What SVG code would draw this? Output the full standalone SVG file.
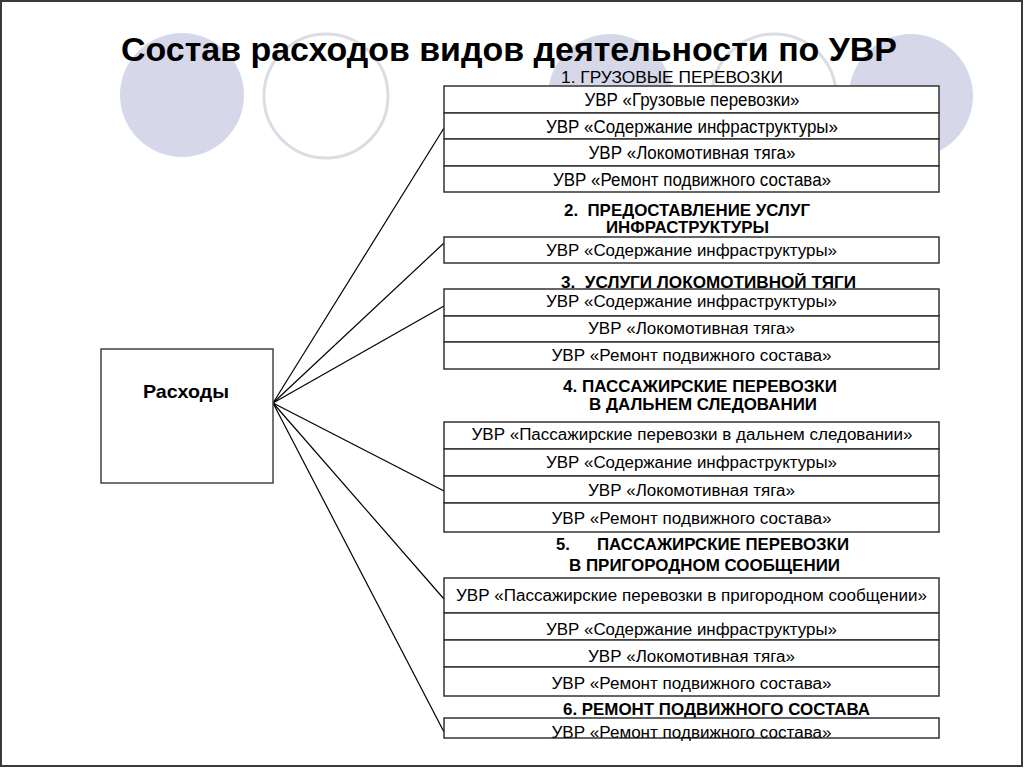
<svg xmlns="http://www.w3.org/2000/svg" width="1024" height="768" viewBox="0 0 1024 768">
<style>
.bg{fill:#ffffff}
.frame{fill:none;stroke:#3a3a3a;stroke-width:2}
.cf{fill:#d6d8ea;stroke:none}
.co{fill:none;stroke:#dcdde4;stroke-width:3}
.row{fill:#ffffff;stroke:#333333;stroke-width:1.5}
.node{fill:#ffffff;stroke:#444444;stroke-width:1.5}
.conn{stroke:#000000;stroke-width:1.2;fill:none}
.title{font-family:"Liberation Sans",Arial,sans-serif;font-weight:bold;font-size:34px;fill:#000}
.hn{font-family:"Liberation Sans",Arial,sans-serif;font-size:17px;fill:#000}
.hb{font-family:"Liberation Sans",Arial,sans-serif;font-weight:bold;font-size:16.5px;fill:#000}
.t{font-family:"Liberation Sans",Arial,sans-serif;font-size:16px;fill:#000;text-anchor:middle}
.t1{font-family:"Liberation Sans",Arial,sans-serif;font-size:18px;fill:#000;text-anchor:middle}
.nb{font-family:"Liberation Sans",Arial,sans-serif;font-weight:bold;font-size:19px;fill:#000;text-anchor:middle}
</style>
<rect class="bg" x="0" y="0" width="1024" height="768"/>
<g id="decor">
<circle class="cf" cx="182" cy="95" r="62"/>
<circle class="co" cx="326" cy="96" r="62"/>
<circle class="cf" cx="610" cy="96" r="62"/>
<circle class="co" cx="774" cy="96" r="62"/>
<circle class="cf" cx="911" cy="96" r="62"/>
</g>
<text id="title" class="title" x="121" y="61" textLength="776" lengthAdjust="spacingAndGlyphs">Состав расходов видов деятельности по УВР</text>
<g id="connectors">
<line class="conn" x1="273" y1="403" x2="444" y2="128"/>
<line class="conn" x1="273" y1="403" x2="444" y2="243"/>
<line class="conn" x1="273" y1="403" x2="444" y2="306"/>
<line class="conn" x1="273" y1="403" x2="444" y2="491"/>
<line class="conn" x1="273" y1="403" x2="444" y2="599"/>
<line class="conn" x1="273" y1="403" x2="444" y2="732"/>
</g>
<g id="node-rashody">
<rect class="node" x="101" y="349" width="172" height="134"/>
<text class="nb" x="186" y="398" textLength="86" lengthAdjust="spacingAndGlyphs">Расходы</text>
</g>
<g id="group-1">
<text class="hn" x="561" y="83" textLength="222" lengthAdjust="spacingAndGlyphs">1. ГРУЗОВЫЕ ПЕРЕВОЗКИ</text>
<rect class="row" x="444" y="86" width="495" height="27"/>
<rect class="row" x="444" y="113" width="495" height="26"/>
<rect class="row" x="444" y="139" width="495" height="27"/>
<rect class="row" x="444" y="166" width="495" height="26"/>
<text class="t1" x="692" y="106" textLength="215" lengthAdjust="spacingAndGlyphs">УВР «Грузовые перевозки»</text>
<text class="t1" x="692" y="133" textLength="292" lengthAdjust="spacingAndGlyphs">УВР «Содержание инфраструктуры»</text>
<text class="t1" x="692" y="159" textLength="207" lengthAdjust="spacingAndGlyphs">УВР «Локомотивная тяга»</text>
<text class="t1" x="692" y="186" textLength="278" lengthAdjust="spacingAndGlyphs">УВР «Ремонт подвижного состава»</text>
</g>
<g id="group-2">
<text class="hb" x="564" y="216" textLength="246" lengthAdjust="spacingAndGlyphs" xml:space="preserve">2.  ПРЕДОСТАВЛЕНИЕ УСЛУГ</text>
<text class="hb" x="606" y="233" textLength="163" lengthAdjust="spacingAndGlyphs">ИНФРАСТРУКТУРЫ</text>
<rect class="row" x="444" y="237" width="495" height="26"/>
<text class="t" x="691.5" y="256" textLength="291" lengthAdjust="spacingAndGlyphs">УВР «Содержание инфраструктуры»</text>
</g>
<g id="group-3">
<text class="hb" x="561" y="288" textLength="295" lengthAdjust="spacingAndGlyphs" xml:space="preserve">3.  УСЛУГИ ЛОКОМОТИВНОЙ ТЯГИ</text>
<rect class="row" x="444" y="289" width="495" height="27"/>
<rect class="row" x="444" y="316" width="495" height="26"/>
<rect class="row" x="444" y="342" width="495" height="27"/>
<text class="t" x="691.5" y="307" textLength="291" lengthAdjust="spacingAndGlyphs">УВР «Содержание инфраструктуры»</text>
<text class="t" x="691.5" y="334" textLength="207" lengthAdjust="spacingAndGlyphs">УВР «Локомотивная тяга»</text>
<text class="t" x="691.5" y="361" textLength="280" lengthAdjust="spacingAndGlyphs">УВР «Ремонт подвижного состава»</text>
</g>
<g id="group-4">
<text class="hb" x="563" y="392" textLength="274" lengthAdjust="spacingAndGlyphs">4. ПАССАЖИРСКИЕ ПЕРЕВОЗКИ</text>
<text class="hb" x="589" y="410" textLength="228" lengthAdjust="spacingAndGlyphs">В ДАЛЬНЕМ СЛЕДОВАНИИ</text>
<rect class="row" x="444" y="422" width="495" height="27"/>
<rect class="row" x="444" y="449" width="495" height="27"/>
<rect class="row" x="444" y="476" width="495" height="27"/>
<rect class="row" x="444" y="503" width="495" height="29"/>
<text class="t" x="692" y="440" textLength="441" lengthAdjust="spacingAndGlyphs">УВР «Пассажирские перевозки в дальнем следовании»</text>
<text class="t" x="691.5" y="468" textLength="291" lengthAdjust="spacingAndGlyphs">УВР «Содержание инфраструктуры»</text>
<text class="t" x="691.5" y="496" textLength="207" lengthAdjust="spacingAndGlyphs">УВР «Локомотивная тяга»</text>
<text class="t" x="691.5" y="524" textLength="280" lengthAdjust="spacingAndGlyphs">УВР «Ремонт подвижного состава»</text>
</g>
<g id="group-5">
<text class="hb" y="550"><tspan x="556">5.</tspan><tspan x="597" textLength="252" lengthAdjust="spacingAndGlyphs">ПАССАЖИРСКИЕ ПЕРЕВОЗКИ</tspan></text>
<text class="hb" x="569" y="571" textLength="271" lengthAdjust="spacingAndGlyphs">В ПРИГОРОДНОМ СООБЩЕНИИ</text>
<rect class="row" x="444" y="578" width="495" height="35"/>
<rect class="row" x="444" y="613" width="495" height="27"/>
<rect class="row" x="444" y="640" width="495" height="27"/>
<rect class="row" x="444" y="667" width="495" height="29"/>
<text class="t" x="691.5" y="601" textLength="471" lengthAdjust="spacingAndGlyphs">УВР «Пассажирские перевозки в пригородном сообщении»</text>
<text class="t" x="691.5" y="635" textLength="291" lengthAdjust="spacingAndGlyphs">УВР «Содержание инфраструктуры»</text>
<text class="t" x="691.5" y="662" textLength="207" lengthAdjust="spacingAndGlyphs">УВР «Локомотивная тяга»</text>
<text class="t" x="691.5" y="689" textLength="280" lengthAdjust="spacingAndGlyphs">УВР «Ремонт подвижного состава»</text>
</g>
<g id="group-6">
<text class="hb" x="563" y="715" textLength="307" lengthAdjust="spacingAndGlyphs">6. РЕМОНТ ПОДВИЖНОГО СОСТАВА</text>
<rect class="row" x="444" y="718" width="495" height="20"/>
<text class="t" x="691.5" y="738" textLength="280" lengthAdjust="spacingAndGlyphs">УВР «Ремонт подвижного состава»</text>
</g>
<rect class="frame" x="1" y="1" width="1021" height="765"/>
</svg>
